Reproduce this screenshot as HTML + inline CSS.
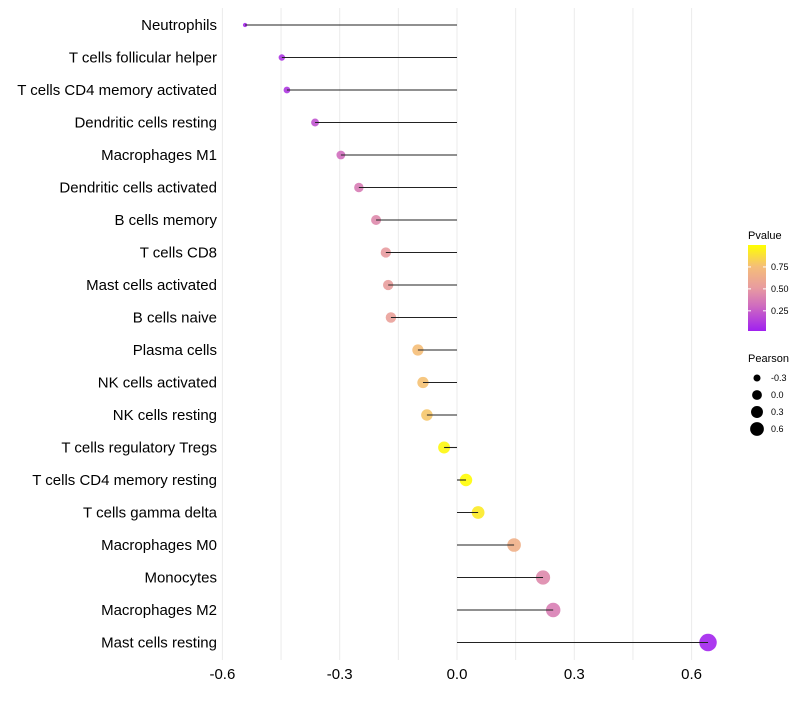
<!DOCTYPE html>
<html><head><meta charset="utf-8"><style>
body{margin:0;background:#fff;font-family:"Liberation Sans",sans-serif}
</style></head><body>
<svg id="c" width="800" height="700" xmlns="http://www.w3.org/2000/svg" font-family="Liberation Sans, sans-serif"></svg>
<script>
const categories=["Neutrophils","T cells follicular helper","T cells CD4 memory activated","Dendritic cells resting","Macrophages M1","Dendritic cells activated","B cells memory","T cells CD8","Mast cells activated","B cells naive","Plasma cells","NK cells activated","NK cells resting","T cells regulatory  Tregs","T cells CD4 memory resting","T cells gamma delta","Macrophages M0","Monocytes","Macrophages M2","Mast cells resting"];
const pearson=[-0.542,-0.448,-0.435,-0.363,-0.297,-0.251,-0.207,-0.182,-0.176,-0.169,-0.100,-0.087,-0.077,-0.033,0.023,0.054,0.146,0.220,0.246,0.642];
const pvalue=[0.03,0.08,0.09,0.2,0.3,0.36,0.42,0.5,0.52,0.54,0.75,0.76,0.78,0.97,0.99,0.92,0.65,0.42,0.37,0.02];
const xTicks=[-0.6,-0.3,0,0.3,0.6];
const xTickLabels=["-0.6","-0.3","0.0","0.3","0.6"];
const colorTicks=[0.25,0.5,0.75];
const sizeTicks=[-0.3,0.0,0.3,0.6];
const NS="http://www.w3.org/2000/svg";
const svg=document.getElementById('c');
function mk(t,a,p){const e=document.createElementNS(NS,t);for(const k in a)e.setAttribute(k,a[k]);(p||svg).appendChild(e);return e;}
const x=v=>457+v*391;
const y=i=>25+i*32.5;
const r=v=>1.1*Math.sqrt(Math.max(3,4+50*(v+0.54)));
const stops=[[0,[160,32,240]],[0.3,[208,110,190]],[0.5,[232,155,160]],[0.75,[245,190,120]],[1,[255,255,0]]];
function col(p){for(let k=1;k<stops.length;k++){if(p<=stops[k][0]){const [p0,a]=stops[k-1],[p1,b]=stops[k];const t=(p-p0)/(p1-p0);return `rgb(${a.map((c,i)=>Math.round(c+(b[i]-c)*t)).join(',')})`;}}return 'rgb(255,255,0)';}
for(let v=-0.6;v<=0.66;v+=0.15){const g=mk('line',{x1:x(v),x2:x(v),y1:8,y2:660,stroke:'#ebebeb','stroke-width':1});
}
xTicks.forEach((v,i)=>{const t=mk('text',{x:x(v),y:679,'text-anchor':'middle','font-size':15,fill:'#000'});t.textContent=xTickLabels[i];
});
categories.forEach((c,i)=>{
const t=mk('text',{x:217,y:y(i)+5,'text-anchor':'end','font-size':15,fill:'#000'});t.textContent=c;

const d=mk('circle',{cx:x(pearson[i]),cy:y(i),r:r(pearson[i]),fill:col(pvalue[i]),'fill-opacity':0.9});

const l=mk('line',{x1:x(0),x2:x(pearson[i]),y1:y(i),y2:y(i),stroke:'#222','stroke-width':1.1});

});
let t=mk('text',{x:748,y:239,'font-size':11});t.textContent='Pvalue';

const defs=mk('defs',{});const gr=mk('linearGradient',{id:'g',x1:0,y1:1,x2:0,y2:0},defs);
stops.forEach(s=>mk('stop',{offset:s[0],'stop-color':col(s[0])},gr));
const cb=mk('rect',{x:748,y:245,width:18,height:86,fill:'url(#g)'});

const cy=p=>331-(p-0.02)/0.98*86;
colorTicks.forEach(p=>{mk('line',{x1:748,x2:751,y1:cy(p),y2:cy(p),stroke:'#fff'});mk('line',{x1:763,x2:766,y1:cy(p),y2:cy(p),stroke:'#fff'});
const s=mk('text',{x:771,y:cy(p)+3,'font-size':9});s.textContent=p.toFixed(2);
});
t=mk('text',{x:748,y:362,'font-size':11});t.textContent='Pearson';

sizeTicks.forEach((v,i)=>{const yy=378+i*17;const c=mk('circle',{cx:757,cy:yy,r:r(v)*0.8,fill:'#000'});

const s=mk('text',{x:771,y:yy+3,'font-size':9});s.textContent=v.toFixed(1);
});
</script>
</body></html>
